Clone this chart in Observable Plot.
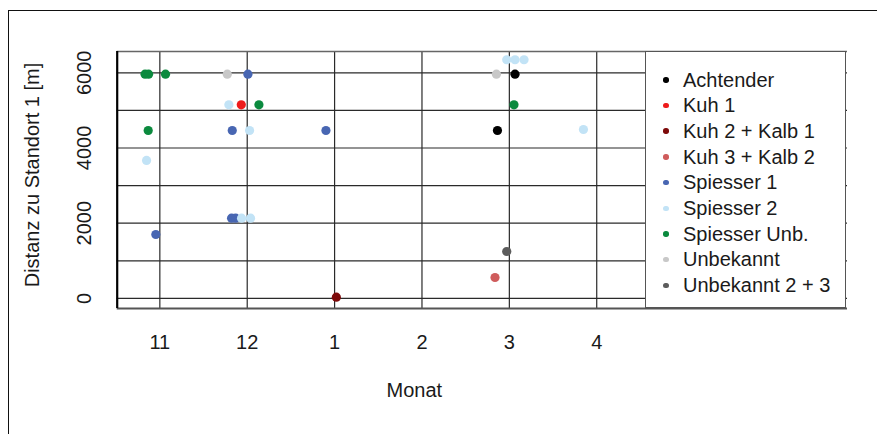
<!DOCTYPE html>
<html>
<head>
<meta charset="utf-8">
<script src="https://cdn.jsdelivr.net/npm/d3@7"></script>
<script src="https://cdn.jsdelivr.net/npm/@observablehq/plot@0.6"></script>
<style>
  html, body { margin: 0; padding: 0; background: #fff; }
  #wrap { position: relative; width: 877px; height: 434px; overflow: hidden; font-family: "Liberation Sans", Arial, sans-serif; color: #1a1a1a; }
  #outer { position: absolute; left: 8px; top: 10px; width: 1000px; height: 1000px; border: 1.5px solid #111; box-sizing: border-box; pointer-events: none; }
  #chart { position: absolute; left: 0; top: 0; }
  #legend { position: absolute; left: 645px; top: 51px; width: 201px; height: 257px; box-sizing: border-box; border: 1.5px solid #555; background: #fff; }
  .item { position: absolute; left: 0; height: 24px; line-height: 24px; font-size: 20px; white-space: nowrap; }
  .item .sw { position: absolute; left: 17px; top: 9.5px; width: 5.5px; height: 5.5px; border-radius: 50%; }
  .item .lb { position: absolute; left: 37px; top: 0; }
</style>
</head>
<body>
<div id="wrap">
  <div id="chart"></div>
  <div id="legend"></div>
  <div id="outer"></div>
</div>
<script>
// Categories and colours
const categories = ["Achtender", "Kuh 1", "Kuh 2 + Kalb 1", "Kuh 3 + Kalb 2", "Spiesser 1", "Spiesser 2", "Spiesser Unb.", "Unbekannt", "Unbekannt 2 + 3"];
const colors = ["#000000", "#ee1b1b", "#7d0a0a", "#cf5c5c", "#4866b2", "#c2e3f6", "#0b8a3e", "#c8c8c8", "#5c5c5c"];

// Points (month: 11 = Nov, 12 = Dec, 13 = Jan, 14 = Feb, 15 = Mar, 16 = Apr)
const pointSeries = [
  "Spiesser Unb.", "Spiesser Unb.", "Spiesser Unb.", "Spiesser Unb.", "Spiesser Unb.", "Spiesser Unb.",
  "Unbekannt", "Unbekannt",
  "Spiesser 1", "Spiesser 1", "Spiesser 1", "Spiesser 1", "Spiesser 1", "Spiesser 1",
  "Spiesser 2", "Spiesser 2", "Spiesser 2", "Spiesser 2", "Spiesser 2", "Spiesser 2", "Spiesser 2", "Spiesser 2", "Spiesser 2",
  "Kuh 1",
  "Achtender", "Achtender",
  "Kuh 2 + Kalb 1",
  "Kuh 3 + Kalb 2",
  "Unbekannt 2 + 3"
];
const pointMonth = [
  10.831, 10.871, 11.065, 12.134, 10.867, 15.053,
  11.772, 14.852,
  12.008, 11.829, 12.901, 11.821, 11.867, 10.954,
  11.790, 12.027, 10.848, 11.935, 12.038, 14.970, 15.065, 15.168, 15.848,
  11.932,
  15.065, 14.864,
  13.020,
  14.836,
  14.970
];
const pointDistance = [
  5963, 5963, 5963, 5149, 4465, 5149,
  5963, 5963,
  5963, 4465, 4465, 2133, 2133, 1699,
  5149, 4465, 3668, 2133, 2133, 6346, 6346, 6346, 4492,
  5149,
  5963, 4465,
  32,
  556,
  1247
];

// Axes
const xTickPos = [11, 12, 13, 14, 15, 16];
const xTickLabels = ["11", "12", "1", "2", "3", "4"];
const yGrid = [0, 1000, 2000, 3000, 4000, 5000, 6000];
const yTicks = [0, 2000, 4000, 6000];
const xDomain = [10.512, 18.87];
const yDomain = [-269, 6566];
const xTitle = "Monat";
const yTitle = "Distanz zu Standort 1 [m]";

const data = pointSeries.map((s, i) => ({series: s, month: pointMonth[i], distance: pointDistance[i]}));

const font = "Liberation Sans, Arial, sans-serif";

const chart = Plot.plot({
  width: 877,
  height: 434,
  marginLeft: 116.7,
  marginRight: 30,
  marginTop: 51,
  marginBottom: 126,
  style: {fontFamily: font, fontSize: "20px", color: "#1a1a1a", background: "transparent"},
  x: {domain: xDomain, axis: null},
  y: {domain: yDomain, axis: null},
  color: {domain: categories, range: colors},
  marks: [
    Plot.ruleY(yGrid, {y: d => d, stroke: "#2a2a2a", strokeWidth: 1.2}),
    Plot.ruleX(xTickPos, {x: d => d, stroke: "#2a2a2a", strokeWidth: 1.2}),
    Plot.ruleY([yDomain[1]], {y: d => d, stroke: "#666", strokeWidth: 1.5}),
    Plot.ruleY([yDomain[0]], {y: d => d, stroke: "#555", strokeWidth: 1.8}),
    Plot.ruleX([xDomain[0]], {x: d => d, stroke: "#000", strokeWidth: 2.2}),
    Plot.dot(data, {x: "month", y: "distance", fill: "series", r: 4.6, stroke: "none"}),
    Plot.text(xTickPos, {x: d => d, text: (d, i) => xTickLabels[i], frameAnchor: "bottom", dy: 40, fontSize: 20, fill: "#1a1a1a"}),
    Plot.text(yTicks, {y: d => d, text: d => String(d), frameAnchor: "left", textAnchor: "middle", lineAnchor: "middle", dx: -33, rotate: -90, fontSize: 20, fill: "#1a1a1a"}),
    Plot.text([xTitle], {text: d => d, frameAnchor: "bottom", dx: -68, dy: 88, fontSize: 20, fill: "#1a1a1a"}),
    Plot.text([yTitle], {text: d => d, frameAnchor: "left", textAnchor: "middle", lineAnchor: "middle", dx: -85, dy: -5, rotate: -90, fontSize: 20, fill: "#1a1a1a"})
  ]
});
document.getElementById("chart").appendChild(chart);

// Legend
const legend = document.getElementById("legend");
categories.forEach((c, i) => {
  const it = document.createElement("div");
  it.className = "item";
  it.style.top = (15.5 + i * 25.7) + "px";
  const sw = document.createElement("span");
  sw.className = "sw";
  sw.style.background = colors[i];
  const lb = document.createElement("span");
  lb.className = "lb";
  lb.textContent = c;
  it.appendChild(sw);
  it.appendChild(lb);
  legend.appendChild(it);
});
</script>
</body>
</html>
